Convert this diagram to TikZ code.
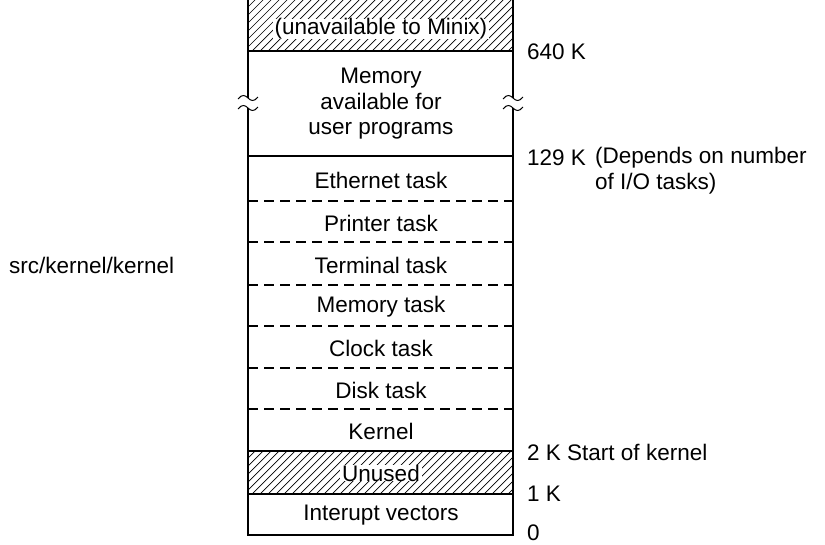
\documentclass[tikz,border=0pt]{standalone}
\usepackage{fontspec}
\setmainfont{Liberation Sans}
\begin{document}
\begin{tikzpicture}[x=1pt,y=-1pt,
  every node/.style={font=\fontsize{22.5}{25.5}\selectfont, inner sep=1pt},
  border/.style={line width=1.8pt},
  sep/.style={line width=1.8pt},
  dsep/.style={line width=1.8pt, dash pattern=on 10pt off 6pt},
  hatch/.style={line width=0.7pt},
  lbl/.style={anchor=west},
  seg/.style={anchor=center},
  clr/.style={fill=white, inner xsep=2pt, inner ysep=0pt}]
\useasboundingbox (0,0) rectangle (825,544);
% hatching
\begin{scope}
  \clip (248,0) rectangle (513,51);
  \foreach \x in {-60,-52,...,280} \draw[hatch] ({248+\x},51) -- ({299+\x},0);
\end{scope}
\begin{scope}
  \clip (248,451) rectangle (513,494);
  \foreach \x in {-60,-52,...,280} \draw[hatch] ({248+\x},494) -- ({291+\x},451);
\end{scope}
% side lines with break marks
\coordinate (tl) at (248,0);
\coordinate (tr) at (513,0);
\coordinate (bl) at (248,535);
\coordinate (br) at (513,535);
\draw[border] (tl) -- (248,98);
\draw[border] (248,108) -- (bl) -- (br) -- (513,108);
\draw[border] (513,98) -- (tr);
\foreach \xx in {248,513}{
  \foreach \yy in {98,108}{
    \draw[line width=1pt] ({\xx-10},{\yy+1}) .. controls ({\xx-6},{\yy-4}) and ({\xx-3},{\yy-3}) .. (\xx,\yy)
       .. controls ({\xx+3},{\yy+3}) and ({\xx+6},{\yy+4}) .. ({\xx+10},{\yy-1});
  }
}
% separators
\draw[sep] (248,51) -- (513,51);
\draw[sep] (248,156) -- (513,156);
\foreach \yy in {201,242,285,326,368,409} \draw[dsep] (248,\yy) -- (513,\yy);
\draw[sep] (248,451) -- (513,451);
\draw[sep] (248,494) -- (513,494);
% segment texts
\node[seg, clr] (unav) at (381,29) {(unavailable to Minix)};
\node[seg, align=center] (user) at (381,104) {Memory\\available for\\user programs};
\node[seg] (eth) at (381,180) {Ethernet task};
\node[seg] (prn) at (381,223) {Printer task};
\node[seg] (term) at (381,265) {Terminal task};
\node[seg] (mem) at (381,307) {Memory task};
\node[seg] (clk) at (381,348) {Clock task};
\node[seg] (disk) at (381,390) {Disk task};
\node[seg] (kern) at (381,431) {Kernel};
\node[seg, clr] (unused) at (381,473) {Unused};
\node[seg] (intv) at (381,515) {Interupt vectors};
% address labels
\node[lbl] (a640) at (526,52) {640 K};
\node[lbl] (a129) at (526,158) {129 K};
\node[lbl, align=left, anchor=north west] (dep) at (594,146) {(Depends on number\\of I/O tasks)};
\node[lbl] (a2) at (526,452) {2 K Start of kernel};
\node[lbl] (a1) at (526,494) {1 K};
\node[lbl] (a0) at (526,533) {0};
\node[lbl] (src) at (8,265) {src/kernel/kernel};
\end{tikzpicture}
\end{document}
